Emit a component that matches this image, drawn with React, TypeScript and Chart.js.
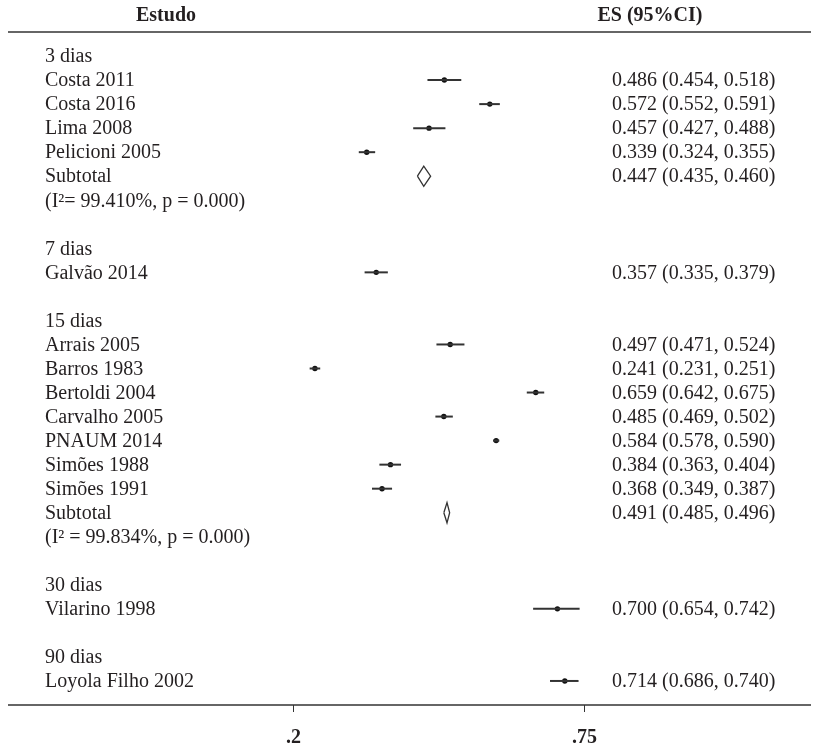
import React, { useEffect, useRef } from "react";
import { Chart, registerables } from "chart.js";

Chart.register(...registerables);

// ---- data ----
const groups = ["3 dias", "7 dias", "15 dias", "30 dias", "90 dias"];
const studyNames = [
  "Costa 2011", "Costa 2016", "Lima 2008", "Pelicioni 2005",
  "Galvão 2014",
  "Arrais 2005", "Barros 1983", "Bertoldi 2004", "Carvalho 2005", "PNAUM 2014", "Simões 1988", "Simões 1991",
  "Vilarino 1998",
  "Loyola Filho 2002",
];
const studyGroup = [0, 0, 0, 0, 1, 2, 2, 2, 2, 2, 2, 2, 3, 4];
const es = [0.486, 0.572, 0.457, 0.339, 0.357, 0.497, 0.241, 0.659, 0.485, 0.584, 0.384, 0.368, 0.700, 0.714];
const ciLow = [0.454, 0.552, 0.427, 0.324, 0.335, 0.471, 0.231, 0.642, 0.469, 0.578, 0.363, 0.349, 0.654, 0.686];
const ciHigh = [0.518, 0.591, 0.488, 0.355, 0.379, 0.524, 0.251, 0.675, 0.502, 0.590, 0.404, 0.387, 0.742, 0.740];

const subtotalGroup = [0, 2];
const subtotalES = [0.447, 0.491];
const subtotalLow = [0.435, 0.485];
const subtotalHigh = [0.460, 0.496];
const heterogeneity = ["(I²= 99.410%, p = 0.000)", "(I² = 99.834%, p = 0.000)"];

const xTicks = [0.2, 0.75];
const xTickLabels = [".2", ".75"];

const headerLeft = "Estudo";
const headerRight = "ES (95%CI)";

// ---- layout of rows (derived from data) ----
type Row = { row: number; left: string; right?: string };
function buildRows() {
  const rows: Row[] = [];
  const studyRow: number[] = [];
  const subRow: number[] = [];
  let r = 0;
  groups.forEach((g, gi) => {
    rows.push({ row: r, left: g });
    r++;
    studyNames.forEach((name, si) => {
      if (studyGroup[si] !== gi) return;
      const txt = `${es[si].toFixed(3)} (${ciLow[si].toFixed(3)}, ${ciHigh[si].toFixed(3)})`;
      rows.push({ row: r, left: name, right: txt });
      studyRow[si] = r;
      r++;
    });
    const k = subtotalGroup.indexOf(gi);
    if (k >= 0) {
      const txt = `${subtotalES[k].toFixed(3)} (${subtotalLow[k].toFixed(3)}, ${subtotalHigh[k].toFixed(3)})`;
      rows.push({ row: r, left: "Subtotal", right: txt });
      subRow[k] = r;
      r++;
      rows.push({ row: r, left: heterogeneity[k] });
      r++;
    }
    if (gi < groups.length - 1) r++;
  });
  return { rows, studyRow, subRow, total: r };
}

const FONT = "'Liberation Serif', 'DejaVu Serif', serif";
const TEXT = "#231f20";

export default function App() {
  const ref = useRef<HTMLCanvasElement | null>(null);

  useEffect(() => {
    if (!ref.current) return;
    const { rows, studyRow, subRow } = buildRows();
    const half = 0.42;

    const datasets: any[] = [];
    studyNames.forEach((_, i) => {
      datasets.push({
        data: [
          { x: ciLow[i], y: studyRow[i] },
          { x: ciHigh[i], y: studyRow[i] },
        ],
        showLine: true,
        borderColor: "#333333",
        borderWidth: 2,
        pointRadius: 0,
      });
    });
    datasets.push({
      data: es.map((v, i) => ({ x: v, y: studyRow[i] })),
      showLine: false,
      pointStyle: "circle",
      pointRadius: 2.7,
      backgroundColor: "#111111",
      borderColor: "#111111",
      borderWidth: 0,
    });
    subtotalES.forEach((v, k) => {
      const y = subRow[k];
      datasets.push({
        data: [
          { x: subtotalLow[k], y },
          { x: v, y: y - half },
          { x: subtotalHigh[k], y },
          { x: v, y: y + half },
          { x: subtotalLow[k], y },
        ],
        showLine: true,
        borderColor: "#333333",
        borderWidth: 1.3,
        pointRadius: 0,
        fill: false,
        tension: 0,
      });
    });

    const textPlugin = {
      id: "forestText",
      afterDraw(chart: any) {
        const { ctx, chartArea, scales } = chart;
        const xs = scales.x;
        const ys = scales.y;
        ctx.save();
        // header line
        ctx.strokeStyle = "#666666";
        ctx.lineWidth = 2;
        ctx.beginPath();
        ctx.moveTo(chartArea.left, chartArea.top);
        ctx.lineTo(chartArea.right, chartArea.top);
        ctx.stroke();
        // axis line
        ctx.beginPath();
        ctx.moveTo(chartArea.left, chartArea.bottom);
        ctx.lineTo(chartArea.right, chartArea.bottom);
        ctx.stroke();
        // ticks
        ctx.lineWidth = 1;
        ctx.strokeStyle = "#333333";
        ctx.fillStyle = TEXT;
        ctx.font = `bold 20px ${FONT}`;
        ctx.textAlign = "center";
        ctx.textBaseline = "middle";
        xTicks.forEach((t, i) => {
          const px = Math.round(xs.getPixelForValue(t)) + 0.5;
          ctx.beginPath();
          ctx.moveTo(px, chartArea.bottom);
          ctx.lineTo(px, chartArea.bottom + 7);
          ctx.stroke();
          ctx.fillText(xTickLabels[i], px, chartArea.bottom + 33);
        });
        // headers
        const hy = ys.getPixelForValue(-1.66);
        ctx.fillText(headerLeft, 166, hy);
        ctx.fillText(headerRight, 650, hy);
        // rows
        ctx.font = `20px ${FONT}`;
        ctx.textBaseline = "middle";
        rows.forEach((r) => {
          const y = ys.getPixelForValue(r.row) + 1;
          ctx.textAlign = "left";
          ctx.fillText(r.left, 45, y);
          if (r.right) ctx.fillText(r.right, 612, y);
        });
        ctx.restore();
      },
    };

    const chart = new Chart(ref.current, {
      type: "scatter",
      data: { datasets },
      options: {
        animation: false,
        responsive: true,
        maintainAspectRatio: false,
        events: [],
        layout: { padding: { left: 8, right: 0, top: 32, bottom: 41 } },
        plugins: { legend: { display: false }, tooltip: { enabled: false } },
        scales: {
          x: { type: "linear", display: false, min: -0.34, max: 1.18 },
          y: { type: "linear", display: false, reverse: true, min: -1, max: 27 },
        },
      },
      plugins: [textPlugin],
    });
    return () => chart.destroy();
  }, []);

  return (
    <div style={{ position: "fixed", left: 0, top: 0, width: 815, height: 746, background: "#fff" }}>
      <canvas ref={ref} />
    </div>
  );
}
